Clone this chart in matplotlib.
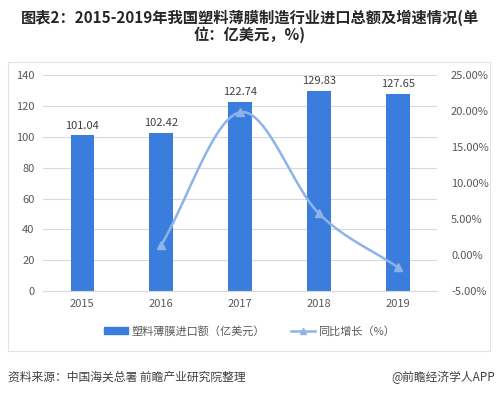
import numpy as np
import matplotlib.pyplot as plt
from matplotlib.patches import Rectangle
from matplotlib.lines import Line2D
from matplotlib.patches import Patch

plt.rcParams['font.family'] = ['Noto Sans CJK SC', 'DejaVu Sans']

years = ['2015', '2016', '2017', '2018', '2019']
imports = [101.04, 102.42, 122.74, 129.83, 127.65]
growth_years = ['2016', '2017', '2018', '2019']
growth = [1.37, 19.84, 5.78, -1.68]

BAR_COLOR = '#3b7ddd'
LINE_COLOR = '#8db3ea'
GRID_COLOR = '#d9d9d9'
TEXT_COLOR = '#595959'


def smooth(xs, ys, n=30):
    # Catmull-Rom through the points, like Excel's smoothed line
    xs = np.asarray(xs, float)
    ys = np.asarray(ys, float)
    px = np.concatenate([[2 * xs[0] - xs[1]], xs, [2 * xs[-1] - xs[-2]]])
    py = np.concatenate([[2 * ys[0] - ys[1]], ys, [2 * ys[-1] - ys[-2]]])
    out_x, out_y = [], []
    for i in range(1, len(px) - 2):
        t = np.linspace(0, 1, n)
        for arr, out in ((px, out_x), (py, out_y)):
            p0, p1, p2, p3 = arr[i - 1], arr[i], arr[i + 1], arr[i + 2]
            out.extend(0.5 * ((2 * p1) + (-p0 + p2) * t
                              + (2 * p0 - 5 * p1 + 4 * p2 - p3) * t ** 2
                              + (-p0 + 3 * p1 - 3 * p2 + p3) * t ** 3))
    return np.array(out_x), np.array(out_y)


fig = plt.figure(figsize=(4.99, 3.95), dpi=100)
ax = fig.add_axes([0.086, 0.263, 0.79, 0.547])

x = np.arange(len(years))
ax.bar(x, imports, width=0.3, color=BAR_COLOR, zorder=2)
for xi, v in zip(x, imports):
    ax.text(xi, v + 3, f'{v:.2f}', ha='center', va='bottom', fontsize=8, color='#404040')

ax.set_xlim(-0.5, len(years) - 0.5)
ax.set_ylim(0, 140)
ax.set_yticks(range(0, 141, 20))
ax.set_xticks(x)
ax.set_xticklabels(years)
ax.yaxis.grid(True, color=GRID_COLOR, lw=0.8, zorder=0)
ax.set_axisbelow(True)
for s in ax.spines.values():
    s.set_visible(False)
ax.spines['bottom'].set_visible(True)
ax.spines['bottom'].set_color(GRID_COLOR)
ax.tick_params(length=0, labelsize=8, colors=TEXT_COLOR, pad=6)

ax2 = ax.twinx()
gx = [years.index(y) for y in growth_years]
sx, sy = smooth(gx, growth)
ax2.plot(sx, sy, color=LINE_COLOR, lw=1.8, zorder=3)
ax2.plot(gx, growth, ls='none', marker='^', ms=6, color=LINE_COLOR, zorder=4)
ax2.set_ylim(-5, 25)
ax2.set_yticks(range(-5, 26, 5))
ax2.set_yticklabels([f'{v:.2f}%' for v in range(-5, 26, 5)])
for s in ax2.spines.values():
    s.set_visible(False)
ax2.tick_params(length=0, labelsize=8, colors=TEXT_COLOR, pad=10)

handles = [Patch(color=BAR_COLOR),
           Line2D([0], [0], color=LINE_COLOR, lw=1.8, marker='^', ms=5)]
labels = ['塑料薄膜进口额（亿美元）', '同比增长（%）']
fig.legend(handles, labels, loc='center', bbox_to_anchor=(0.5, 0.162), ncol=2,
           frameon=False, fontsize=8, labelcolor=TEXT_COLOR, columnspacing=2.3,
           handlelength=2.2, handletextpad=0.3)

fig.text(0.5, 0.955, '图表2：2015-2019年我国塑料薄膜制造行业进口总额及增速情况(单',
         ha='center', va='center', fontsize=11, fontweight='bold', color='#262626')
fig.text(0.5, 0.912, '位：亿美元，%)',
         ha='center', va='center', fontsize=11, fontweight='bold', color='#262626')

fig.patches.append(Rectangle((0.016, 0.111), 0.966, 0.732, transform=fig.transFigure,
                             fill=False, edgecolor='#e3e3e3', lw=0.8))

fig.text(0.016, 0.045, '资料来源：中国海关总署 前瞻产业研究院整理',
         ha='left', va='center', fontsize=8.5, color='#404040')
fig.text(0.992, 0.045, '@前瞻经济学人APP',
         ha='right', va='center', fontsize=8.5, color='#404040')

fig.savefig('out.png', dpi=100, facecolor='white')
